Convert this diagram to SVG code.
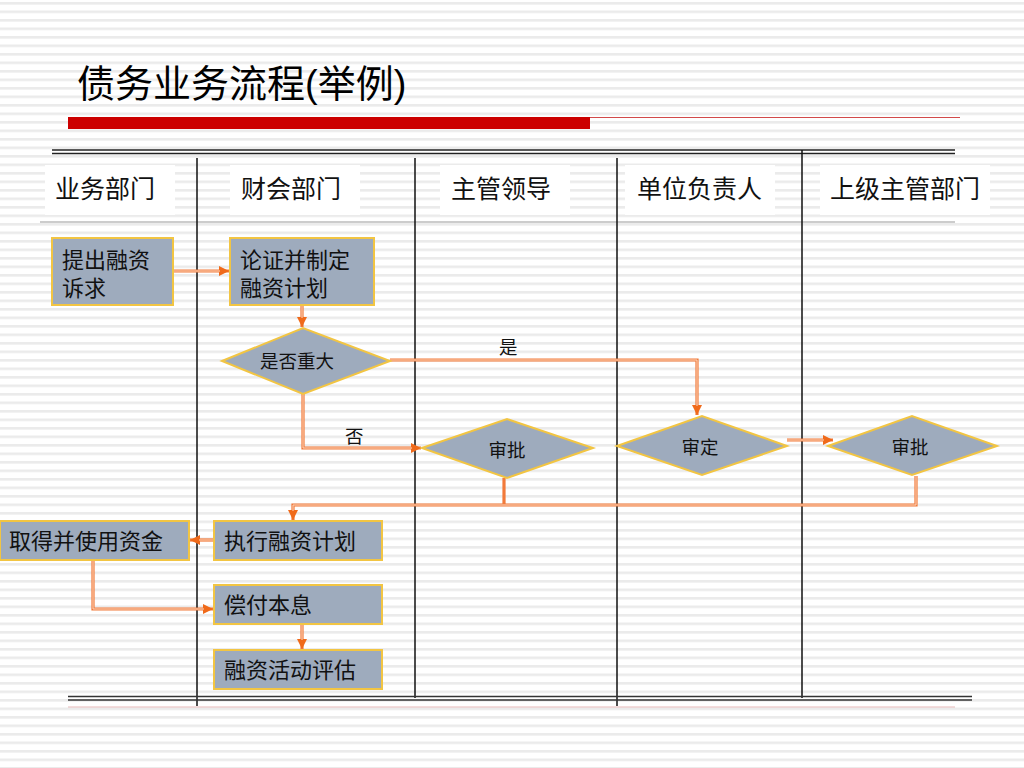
<svg xmlns="http://www.w3.org/2000/svg" width="1024" height="768" viewBox="0 0 1024 768">
<defs>
<pattern id="stripes" x="0" y="2" width="1024" height="8.5" patternUnits="userSpaceOnUse">
<rect x="0" y="0" width="1024" height="2.6" fill="#ebebeb"/>
</pattern>
<marker id="arr" viewBox="0 0 10 10" refX="10" refY="5" markerWidth="10" markerHeight="10" markerUnits="userSpaceOnUse" orient="auto">
<path d="M0,0 L10,5 L0,10 z" fill="#f06a1a"/>
</marker>
<style>
.hdr{font-family:"Liberation Sans","Noto Sans CJK SC",sans-serif;font-size:25px;fill:#111}
.nt{font-family:"Liberation Sans","Noto Sans CJK SC",sans-serif;font-size:22px;fill:#111}
.dt{font-family:"Liberation Sans","Noto Sans CJK SC",sans-serif;font-size:18.5px;fill:#111}
.box{fill:#9eabbd;stroke:#f2c543;stroke-width:2}
.con{fill:none;stroke:#f27a3a;stroke-width:3.2}
.conin{fill:none;stroke:#fcd9c2;stroke-width:1}
.lane{stroke:#111;stroke-width:1.5}
.hbg{fill:#fff}
</style>
</defs>
<rect width="1024" height="768" fill="#fff"/>
<rect width="1024" height="768" fill="url(#stripes)"/>

<!-- title -->
<text x="77" y="97" font-family="Liberation Sans, Noto Sans CJK SC, sans-serif" font-size="38" fill="#000">债务业务流程(举例)</text>
<rect x="68" y="117" width="522" height="12" fill="#cc0000"/>
<line x1="590" y1="117.5" x2="960" y2="117.5" stroke="#d24a4a" stroke-width="1"/>

<!-- table frame -->
<g id="table">
<line x1="52" y1="150" x2="955" y2="150" stroke="#222" stroke-width="1.5"/>
<line x1="52" y1="153.5" x2="955" y2="153.5" stroke="#222" stroke-width="1.5"/>
<rect x="45" y="165" width="130" height="50" class="hbg"/>
<rect x="230" y="165" width="130" height="50" class="hbg"/>
<rect x="440" y="165" width="130" height="50" class="hbg"/>
<rect x="625" y="165" width="150" height="50" class="hbg"/>
<rect x="820" y="165" width="170" height="50" class="hbg"/>
<line x1="40" y1="222" x2="955" y2="222" stroke="#999" stroke-width="1"/>
<line x1="197" y1="158" x2="197" y2="706" class="lane"/>
<line x1="415" y1="158" x2="415" y2="698" class="lane"/>
<line x1="617" y1="158" x2="617" y2="706" class="lane"/>
<line x1="802" y1="150" x2="802" y2="698" class="lane"/>
<line x1="68" y1="696.5" x2="972" y2="696.5" stroke="#333" stroke-width="1.6"/>
<line x1="68" y1="700" x2="972" y2="700" stroke="#333" stroke-width="1.6"/>
<line x1="68" y1="707" x2="955" y2="707" stroke="#e6b8b8" stroke-width="1"/>
<text x="55" y="198" class="hdr">业务部门</text>
<text x="241" y="198" class="hdr">财会部门</text>
<text x="451" y="198" class="hdr">主管领导</text>
<text x="637" y="198" class="hdr">单位负责人</text>
<text x="830" y="198" class="hdr">上级主管部门</text>
</g>

<!-- connectors -->
<g id="connectors">
<path class="con" d="M173,271 H229" marker-end="url(#arr)"/>
<path class="conin" d="M173,271 H220"/>
<path class="con" d="M302,305 V327" marker-end="url(#arr)"/>
<path class="conin" d="M302,305 V318"/>
<path class="con" d="M390,360 H697 V415" marker-end="url(#arr)"/>
<path class="conin" d="M390,360 H697 V406"/>
<path class="con" d="M303,394 V448 H421" marker-end="url(#arr)"/>
<path class="conin" d="M303,394 V448 H412"/>
<path class="con" d="M787,440 H833" marker-end="url(#arr)"/>
<path class="conin" d="M787,440 H824"/>
<path class="con" d="M504,478 V505"/>
<path class="con" d="M916,476 V505 H293 V520" marker-end="url(#arr)"/>
<path class="conin" d="M916,476 V505 H293 V511"/>
<path class="con" d="M214,540 H190" marker-end="url(#arr)"/>
<path class="conin" d="M214,540 H199"/>
<path class="con" d="M93,561 V609 H213" marker-end="url(#arr)"/>
<path class="conin" d="M93,561 V609 H204"/>
<path class="con" d="M302,624 V649" marker-end="url(#arr)"/>
<path class="conin" d="M302,624 V640"/>
<text x="499" y="354" class="dt">是</text>
<text x="345" y="443" class="dt">否</text>
</g>

<g id="n1"><rect x="52" y="238" width="121" height="67" class="box"/><text x="62" y="268" class="nt">提出融资</text><text x="62" y="296" class="nt">诉求</text></g>
<g id="n2"><rect x="230" y="238" width="144" height="67" class="box"/><text x="240" y="268" class="nt">论证并制定</text><text x="240" y="296" class="nt">融资计划</text></g>
<g id="n3"><polygon points="222,361 303,328 390,361 303,394" class="box"/><text x="297" y="368" class="dt" text-anchor="middle">是否重大</text></g>
<g id="n4"><polygon points="422,448 507,419 593,448 507,478" class="box"/><text x="507" y="457" class="dt" text-anchor="middle">审批</text></g>
<g id="n5"><polygon points="617,446 702,416 787,446 702,475" class="box"/><text x="700" y="454" class="dt" text-anchor="middle">审定</text></g>
<g id="n6"><polygon points="828,446 912,416 997,446 912,475" class="box"/><text x="910" y="454" class="dt" text-anchor="middle">审批</text></g>
<g id="n7"><rect x="0" y="521" width="189" height="39" class="box"/><text x="9" y="549" class="nt">取得并使用资金</text></g>
<g id="n8"><rect x="214" y="521" width="168" height="39" class="box"/><text x="224" y="549" class="nt">执行融资计划</text></g>
<g id="n9"><rect x="214" y="585" width="168" height="39" class="box"/><text x="224" y="613" class="nt">偿付本息</text></g>
<g id="n10"><rect x="214" y="650" width="168" height="39" class="box"/><text x="224" y="678" class="nt">融资活动评估</text></g>
</svg>
